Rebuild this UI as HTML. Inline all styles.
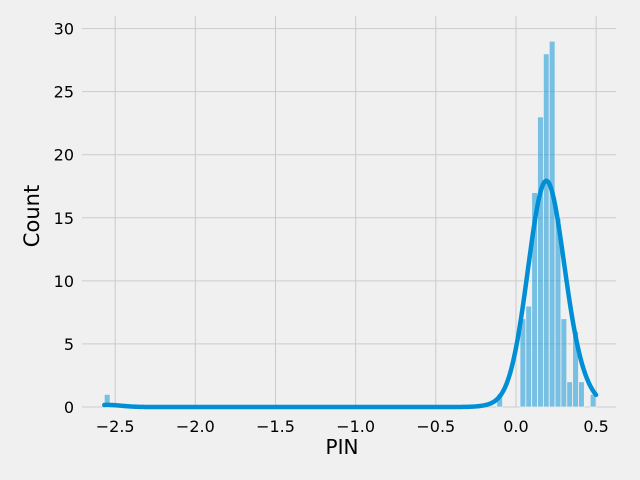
<!DOCTYPE html>
<html><head><meta charset="utf-8"><style>
body{margin:0;background:#f0f0f0;}
svg{display:block;font-family:"DejaVu Sans","Liberation Sans",sans-serif;}
</style></head><body>
<svg id="chart" width="640" height="480">
<rect width="640" height="480" fill="#f0f0f0"/>
<g id="grid"></g><g id="bars"></g><g id="kde"></g><g id="ticks"></g>
<text x="342" y="454" font-size="20" text-anchor="middle" fill="#000">PIN</text>
<text x="39" y="216" font-size="21" text-anchor="middle" fill="#000" transform="rotate(-90 39 216)">Count</text>
</svg>
<script>
const binLefts=[-2.568,-0.120,0.025,0.0615,0.098,0.1345,0.171,0.2075,0.244,0.2805,0.317,0.3535,0.390,0.463];
const binCounts=[1,1,7,8,17,23,28,29,15,7,2,6,2,1];
const binWidth=0.0365;
const xTicks=[-2.5,-2.0,-1.5,-1.0,-0.5,0.0,0.5];
const yTicks=[0,5,10,15,20,25,30];
const L=82,R=616,T=16,B=407;
const xmin=-2.707,xmax=0.624,ymin=0,ymax=31;
const sx=v=>L+(v-xmin)/(xmax-xmin)*(R-L);
const sy=v=>B-(v-ymin)/(ymax-ymin)*(B-T);
const NS="http://www.w3.org/2000/svg";
function mk(t,a,p){const e=document.createElementNS(NS,t);for(const k in a)e.setAttribute(k,a[k]);p.appendChild(e);return e;}
const grid=document.getElementById('grid'),ticks=document.getElementById('ticks');
xTicks.forEach(v=>{const l=mk('line',{x1:sx(v),x2:sx(v),y1:T,y2:B,stroke:'#cbcbcb','stroke-width':1},grid);

const t=mk('text',{x:sx(v),y:B+25,'font-size':16,'text-anchor':'middle',fill:'#000'},ticks);
t.textContent=(v<0?'\u2212':'')+Math.abs(v).toFixed(1);
});
yTicks.forEach(v=>{const l=mk('line',{x1:L,x2:R,y1:sy(v),y2:sy(v),stroke:'#cbcbcb','stroke-width':1},grid);

const t=mk('text',{x:L-8,y:sy(v)+6,'font-size':16,'text-anchor':'end',fill:'#000'},ticks);
t.textContent=v;
});
const bars=document.getElementById('bars');
binLefts.forEach((b,i)=>{const r=mk('rect',{x:sx(b),y:sy(binCounts[i]),width:sx(b+binWidth)-sx(b),height:sy(0)-sy(binCounts[i]),fill:'#008fd5','fill-opacity':0.5,stroke:'#f0f0f0','stroke-width':0.8},bars);
});
const h=0.088;
function kde(x){let s=0;binLefts.forEach((b,i)=>{const c=b+binWidth/2;s+=binCounts[i]*Math.exp(-0.5*((x-c)/h)**2)/(h*Math.sqrt(2*Math.PI));});return s*binWidth;}
let d='';const x0=binLefts[0],x1=binLefts[binLefts.length-1]+binWidth;
for(let k=0;k<=600;k++){const x=x0+(x1-x0)*k/600;d+=(k?'L':'M')+sx(x).toFixed(2)+' '+sy(kde(x)).toFixed(2);}
const p=mk('path',{d:d,fill:'none',stroke:'#008fd5','stroke-width':4.5,'stroke-linecap':'round'},document.getElementById('kde'));

</script>
</body></html>
